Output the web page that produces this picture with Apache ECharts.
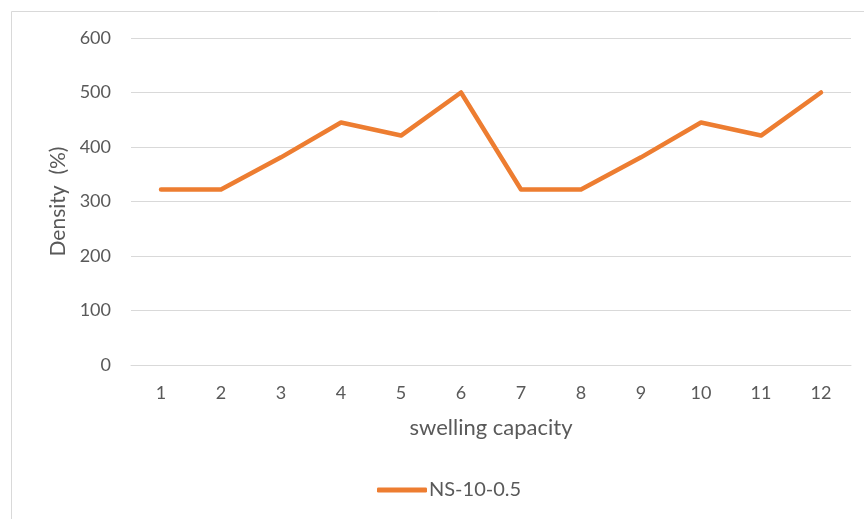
<!DOCTYPE html>
<html>
<head>
<meta charset="utf-8">
<script src="https://cdn.jsdelivr.net/npm/echarts@6/dist/echarts.min.js"></script>
<style>
  html, body { margin: 0; padding: 0; background: #ffffff; }
  #chart { width: 864px; height: 519px; }
</style>
</head>
<body>
<div id="chart"></div>
<script>
// Swelling capacity categories and measured density
const categories = ['1', '2', '3', '4', '5', '6', '7', '8', '9', '10', '11', '12'];
const seriesName = 'NS-10-0.5';
const densityValues = [322, 322, 381, 445, 421, 500, 322, 322, 381, 445, 421, 500];
const yTicks = { min: 0, max: 600, step: 100 };

const FONT = 'Lato, "Open Sans", sans-serif';
const TEXT = '#595959';
const ORANGE = '#ED7D31';

const chart = echarts.init(document.getElementById('chart'), null, { renderer: 'canvas' });

chart.setOption({
  backgroundColor: '#ffffff',
  animation: false,
  graphic: [{
    type: 'rect',
    shape: { x: 11.5, y: 11.5, width: 1000, height: 1000 },
    style: { fill: 'none', stroke: '#D9D9D9', lineWidth: 1 },
    silent: true,
    z: -10
  }],
  grid: { left: 131, right: 13, top: 38, bottom: 154, containLabel: false },
  legend: {
    data: [{ name: seriesName, icon: 'roundRect' }],
    left: 377,
    top: 480,
    padding: 0,
    itemWidth: 50,
    itemHeight: 5,
    itemGap: 10,
    textStyle: { fontFamily: FONT, fontSize: 20, color: TEXT, padding: [0, 0, 0, -3] }
  },
  xAxis: {
    type: 'category',
    data: categories,
    boundaryGap: true,
    name: 'swelling capacity',
    nameLocation: 'middle',
    nameGap: 52,
    nameTextStyle: { fontFamily: FONT, fontSize: 22, color: TEXT },
    axisLine: { show: true, lineStyle: { color: '#D9D9D9', width: 1 } },
    axisTick: { show: false },
    axisLabel: { fontFamily: FONT, fontSize: 18, color: TEXT, margin: 19 }
  },
  yAxis: {
    type: 'value',
    min: yTicks.min,
    max: yTicks.max,
    interval: yTicks.step,
    name: 'Density  (%)',
    nameLocation: 'middle',
    nameRotate: 90,
    nameGap: 62,
    nameTextStyle: { fontFamily: FONT, fontSize: 21, color: TEXT },
    axisLine: { show: false },
    axisTick: { show: false },
    axisLabel: { fontFamily: FONT, fontSize: 18, color: TEXT, margin: 20 },
    splitLine: { show: true, lineStyle: { color: '#D9D9D9', width: 1 } }
  },
  series: [{
    name: seriesName,
    type: 'line',
    data: densityValues,
    symbol: 'none',
    lineStyle: { color: ORANGE, width: 4.5, cap: 'round', join: 'round' },
    itemStyle: { color: ORANGE }
  }]
});
</script>
</body>
</html>
